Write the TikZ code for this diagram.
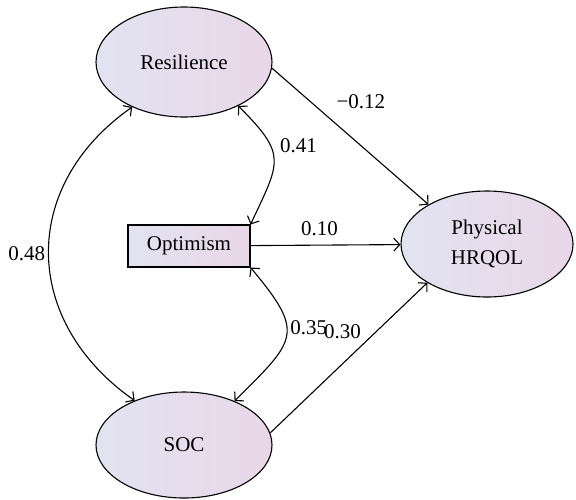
\documentclass[tikz,border=0pt]{standalone}
\usepackage{fontspec}
\setmainfont{Liberation Serif}
\usepackage{tikz}
\usetikzlibrary{shapes.geometric,arrows.meta}
\definecolor{fillleft}{RGB}{226,227,241}
\definecolor{fillright}{RGB}{233,215,233}
\tikzset{
  sempic/.style={
    x=0.5pt,y=-0.5pt
    ,>={Straight Barb[length=3pt,width=6.5pt]}
    ,font=\fontsize{10.5}{15}\selectfont
  }
  ,shaded/.style={draw=black,line width=.55pt,left color=fillleft,right color=fillright}
  ,latent/.style={shaded,ellipse,inner sep=0pt
    ,minimum width=88pt,minimum height=55pt,align=center}
  ,observed/.style={shaded,rectangle,inner sep=0pt
    ,minimum width=61pt,minimum height=21pt}
  ,path/.style={->,line width=.55pt}
  ,covar/.style={<->,line width=.55pt}
  ,coef/.style={inner sep=1.5pt}
}
\begin{document}
\begin{tikzpicture}[sempic]
    \useasboundingbox (0,0) rectangle (576,499);
    % constructs
    \node[latent] (res) at (184,62) {Resilience};
    \node[latent,minimum height=53pt] (soc) at (184,445) {SOC};
    \node[observed] (opt) at (189,246) {Optimism};
    \node[latent,minimum width=86pt,minimum height=53pt] (phys) at (487,244) {Physical\\HRQOL};
    % direct paths
    \draw[path] (res.356) -- node[coef,pos=0.3,above right,xshift=7pt,yshift=-1.5pt] {−0.12} (phys.146);
    \draw[path] (opt) -- node[coef,midway,above,yshift=3pt,xshift=-3pt] {0.10} (phys);
    \draw[path] (soc.8.5) -- node[coef,pos=0.6,above left] {0.30} (phys.213);
    % correlations
    \draw[covar] (res.221) to[out=215,in=145,looseness=1.2]
      node[coef,midway,left] {0.48} (soc.138);
    \draw[covar] (res.321) to[out=-45,in=65,looseness=1.5]
      node[coef,pos=0.35,right,xshift=3pt] {0.41} (opt.north east);
    \draw[covar] (opt.south east) to[out=-50,in=45,looseness=1.65]
      node[coef,pos=0.42,right] {0.35} (soc.41);
\end{tikzpicture}
\end{document}
